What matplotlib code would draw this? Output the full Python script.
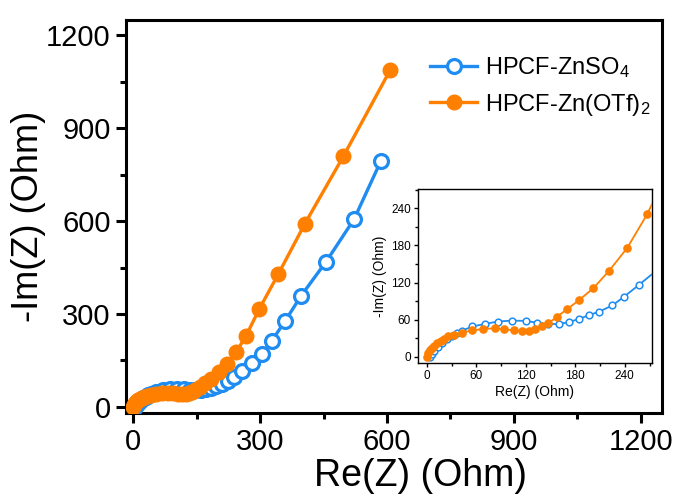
import matplotlib
matplotlib.use("Agg")
import matplotlib.pyplot as plt
from matplotlib.ticker import MultipleLocator

plt.rcParams['font.family'] = ['Liberation Sans', 'DejaVu Sans']
plt.rcParams['mathtext.fontset'] = 'custom'
plt.rcParams['mathtext.rm'] = 'Liberation Sans'
plt.rcParams['mathtext.it'] = 'Liberation Sans'

# Data (Nyquist plots)
labels = ['HPCF-ZnSO$_4$', 'HPCF-Zn(OTf)$_2$']
znso4_re = [4, 6, 9, 13, 18, 24, 30, 36, 42, 55, 70, 86, 103, 120, 134, 147, 160, 172,
            184, 196, 209, 225, 239, 257, 280, 304, 328, 359, 397, 456, 522, 585]
znso4_im = [0, 5, 10, 16, 22, 28, 33, 38, 42, 49, 53, 57, 58.5, 58, 55, 53, 53, 56,
            61, 67, 73, 83, 97, 116, 141, 171, 214, 277, 359, 469, 606, 793]
otf_re = [0, 1.6, 3.6, 5.7, 8.9, 12.5, 16.6, 21, 26, 33, 43, 54, 68, 82, 94, 105, 115,
          124, 131, 139, 147, 158, 170, 184, 202, 221, 243, 267, 298, 343, 406, 497, 607]
otf_im = [0, 6, 11, 15, 18, 22, 25, 28.5, 33, 35.5, 39, 42.5, 45, 46, 44.6, 42.5, 41,
          42, 45, 49, 54, 65, 77, 91, 111, 139, 176, 230, 316, 429, 592, 810, 1087]

main_ticks = [0, 300, 600, 900, 1200]
inset_ticks = [0, 60, 120, 180, 240]

blue = '#1E8CF0'
orange = '#FF8000'

fig = plt.figure(figsize=(6.76, 4.97), dpi=100)
ax = fig.add_axes([0.1864, 0.169, 0.7929, 0.7908])

ax.plot(znso4_re, znso4_im, '-o', color=blue, lw=2.4, ms=10, mfc='white',
        mec=blue, mew=2.3, label=labels[0], zorder=3)
ax.plot(otf_re, otf_im, '-o', color=orange, lw=2.4, ms=10.5, mfc=orange,
        mec=orange, label=labels[1], zorder=4)

ax.set_xlim(-17, 1250)
ax.set_ylim(-20, 1250)
ax.set_xticks(main_ticks)
ax.set_yticks(main_ticks)
ax.xaxis.set_minor_locator(MultipleLocator(150))
ax.yaxis.set_minor_locator(MultipleLocator(150))
for s in ax.spines.values():
    s.set_linewidth(2.2)
ax.tick_params(which='major', direction='out', length=7, width=2.2, labelsize=21, pad=4)
ax.tick_params(which='minor', direction='out', length=4, width=2.2)
ax.tick_params(top=False, right=False, which='both')
ax.set_xlabel('Re(Z) (Ohm)', fontsize=27)
ax.xaxis.set_label_coords(0.549, -0.115, transform=ax.transAxes)
ax.xaxis.label.set_va('top')
ax.set_ylabel('-Im(Z) (Ohm)', fontsize=26, labelpad=0)

leg = ax.legend(loc='upper left', bbox_to_anchor=(0.55, 0.935), frameon=False,
                fontsize=17, handlelength=2.0, handletextpad=0.3, labelspacing=0.5,
                borderaxespad=0)

# Inset
ins = fig.add_axes([0.6183, 0.2696, 0.3462, 0.3501])
ins.plot(znso4_re, znso4_im, '-o', color=blue, lw=1.3, ms=4.8, mfc='white',
         mec=blue, mew=1.1, zorder=3)
ins.plot(otf_re, otf_im, '-o', color=orange, lw=1.3, ms=5.2, mfc=orange,
         mec=orange, zorder=4)
ins.set_xlim(-11, 273)
ins.set_ylim(-10, 271)
ins.set_xticks(inset_ticks)
ins.set_yticks(inset_ticks)
ins.xaxis.set_minor_locator(MultipleLocator(30))
ins.yaxis.set_minor_locator(MultipleLocator(30))
for s in ins.spines.values():
    s.set_linewidth(1.0)
ins.tick_params(which='major', direction='out', length=3, width=1.0, labelsize=8.5, pad=2)
ins.tick_params(which='minor', direction='out', length=2, width=1.0)
ins.set_xlabel('Re(Z) (Ohm)', fontsize=10, labelpad=2)
ins.set_ylabel('-Im(Z) (Ohm)', fontsize=10, labelpad=3)

fig.savefig('out.png', dpi=100)
